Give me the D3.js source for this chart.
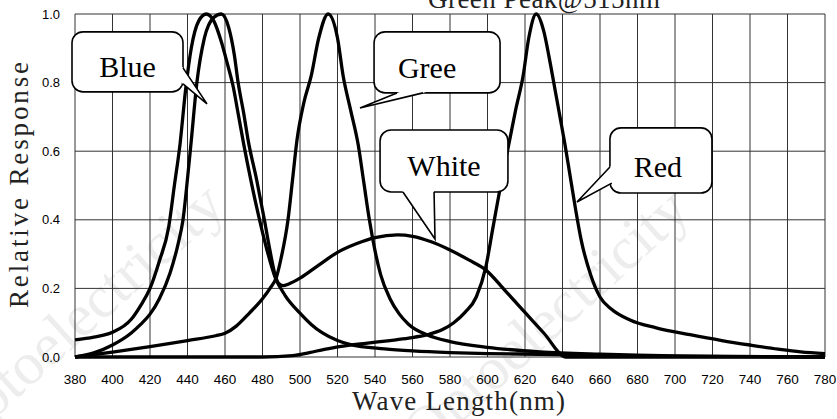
<!DOCTYPE html>
<html>
<head>
<meta charset="utf-8">
<script src="https://cdn.jsdelivr.net/npm/d3@7"></script>
<style>
  body { margin: 0; background: #fff; }
  svg { display: block; }
</style>
</head>
<body>
<svg id="chart" width="837" height="419"></svg>
<script>
// SPECTRUM DATA  [wavelength nm, relative response]
const blueCurve = [
  [380,0.05],[390,0.058],[400,0.072],[410,0.11],[415,0.15],[420,0.2],[425,0.28],[430,0.38],
  [433,0.5],[436,0.62],[439,0.78],[442,0.9],[446,0.98],[450,1.0],[454,0.98],[458,0.92],
  [461.5,0.85],[464.3,0.79],[467,0.71],[470,0.62],[474,0.51],[478,0.41],[482,0.32],[486.7,0.233],
  [492,0.18],[500,0.128],[506,0.095],[512,0.07],[520,0.048],[527,0.036],[545,0.024],[560,0.018],
  [580,0.013],[600,0.01],[628,0.008],[660,0.005],[700,0.002],[740,0.001],[780,0]
];
const whiteCurve = [
  [380,0],[390,0.012],[400,0.035],[410,0.07],[415,0.095],[420,0.125],[425,0.17],[430.7,0.245],
  [435,0.33],[437.6,0.4],[440,0.52],[442,0.63],[445,0.8],[449,0.93],[454,0.99],[458,1.0],
  [462,0.96],[465,0.88],[467,0.8],[470,0.71],[472.3,0.633],[476.9,0.516],[481,0.4],[484,0.31],
  [486.7,0.24],[488.5,0.215],[491,0.208],[494,0.213],[500,0.23],[510,0.268],[520,0.305],
  [530,0.33],[540,0.348],[552,0.356],[560,0.352],[570,0.336],[580,0.312],[590,0.283],
  [599,0.254],[610,0.19],[620,0.13],[630,0.07],[642,0],[700,0],[780,0]
];
const greenCurve = [
  [380,0],[400,0.014],[420,0.03],[440,0.048],[455,0.062],[460,0.069],[466,0.09],[473,0.128],
  [480,0.17],[484,0.2],[487.5,0.234],[490,0.29],[493.6,0.4],[496,0.516],[498.4,0.633],
  [502,0.74],[506,0.82],[510,0.93],[515,1.0],[520,0.93],[523,0.82],[527,0.72],[531,0.62],
  [534,0.51],[537,0.4],[540,0.31],[543,0.24],[548,0.17],[553,0.125],[558,0.095],[568,0.064],
  [580,0.045],[600,0.028],[628,0.015],[660,0.008],[700,0.003],[780,0]
];
const redCurve = [
  [380,0],[480,0],[496,0.004],[505,0.013],[513,0.022],[521,0.03],[535,0.04],[548,0.048],
  [558,0.055],[568,0.065],[576,0.08],[582,0.1],[588,0.13],[594,0.175],[599,0.26],[603,0.38],
  [607,0.5],[611,0.61],[615,0.72],[619,0.82],[622,0.93],[626,1.0],[630,0.95],[633,0.87],
  [636,0.78],[639,0.69],[641.3,0.62],[644,0.53],[647,0.43],[650,0.34],[655,0.24],[660,0.175],
  [666,0.14],[676,0.108],[690,0.085],[708,0.065],[725,0.048],[740,0.035],[755,0.023],
  [767,0.015],[780,0.01]
];

const xTicks = [380,400,420,440,460,480,500,520,540,560,580,600,620,640,660,680,700,720,740,760,780];
const yTicks = [0, 0.2, 0.4, 0.6, 0.8, 1.0];

// callouts: box [nm0, nm1, vTop, vBottom], tail base points and tip, in data units
const callouts = [
  {label: "Blue",  box: [378.4, 437.6, 0.948, 0.773], base: [[437.6,0.843],[437.6,0.796]], tip: [450.4,0.738], dx: 0},
  {label: "Gree",  box: [539.5, 606.7, 0.948, 0.770], base: [[551.7,0.770],[565.6,0.770]], tip: [532,0.726], dx: -10},
  {label: "White", box: [542.7, 610.9, 0.662, 0.481], base: [[554.9,0.481],[571.5,0.481]], tip: [572,0.344], dx: 0},
  {label: "Red",   box: [665.3, 719.7, 0.668, 0.478], base: [[665.3,0.554],[666.3,0.507]], tip: [647.7,0.452], dx: -3}
];

const svg = d3.select("#chart");

const x = d3.scaleLinear().domain([380, 780]).range([75, 825]);
const y = d3.scaleLinear().domain([0, 1]).range([357, 14]);

// faint watermark text
const wm = svg.append("g").attr("fill", "#ededed")
  .style("font-family", "'Liberation Serif', serif").style("font-size", "60px");
wm.append("text").attr("transform", "translate(-40,450) rotate(-42)").text("Optoelectricity");
wm.append("text").attr("transform", "translate(425,455) rotate(-42)").text("Optoelectricity");

// grid
svg.append("g").selectAll("line.vgrid")
  .data(xTicks)
  .join("line")
  .attr("class", "vgrid")
  .attr("x1", d => x(d)).attr("x2", d => x(d))
  .attr("y1", y(0)).attr("y2", y(1))
  .attr("stroke", "#333").attr("stroke-width", 1);

svg.append("g").selectAll("line.hgrid")
  .data(yTicks)
  .join("line")
  .attr("class", "hgrid")
  .attr("x1", x(380)).attr("x2", x(780))
  .attr("y1", d => y(d)).attr("y2", d => y(d))
  .attr("stroke", "#333").attr("stroke-width", 1);

// tick labels
svg.append("g").selectAll("text")
  .data(xTicks)
  .join("text")
  .attr("x", d => x(d))
  .attr("y", 384)
  .attr("text-anchor", "middle")
  .style("font-family", "'Liberation Sans', Arial, sans-serif")
  .style("font-size", "13.5px")
  .text(d => d);

svg.append("g").selectAll("text")
  .data(yTicks)
  .join("text")
  .attr("x", 60)
  .attr("y", d => y(d))
  .attr("dy", "0.35em")
  .attr("text-anchor", "end")
  .style("font-family", "'Liberation Sans', Arial, sans-serif")
  .style("font-size", "13px")
  .text(d => d.toFixed(1));

// curves
const line = d3.line()
  .x(d => x(d[0]))
  .y(d => y(d[1]))
  .curve(d3.curveMonotoneX);

[blueCurve, whiteCurve, greenCurve, redCurve].forEach(c => {
  svg.append("path")
    .datum(c)
    .attr("d", line)
    .attr("fill", "none")
    .attr("stroke", "#000")
    .attr("stroke-width", 3.3)
    .attr("stroke-linejoin", "round");
});

// callouts
callouts.forEach(c => {
  const x0 = x(c.box[0]), x1 = x(c.box[1]);
  const y0 = y(c.box[2]), y1 = y(c.box[3]);
  const g = svg.append("g");
  g.append("rect")
    .attr("x", x0).attr("y", y0)
    .attr("width", x1 - x0).attr("height", y1 - y0)
    .attr("rx", 11).attr("ry", 11)
    .attr("fill", "#fff").attr("stroke", "#000").attr("stroke-width", 1.6);

  const b1 = [x(c.base[0][0]), y(c.base[0][1])];
  const b2 = [x(c.base[1][0]), y(c.base[1][1])];
  const tp = [x(c.tip[0]), y(c.tip[1])];
  const mx = (b1[0] + b2[0]) / 2 - tp[0], my = (b1[1] + b2[1]) / 2 - tp[1];
  const len = Math.hypot(mx, my);
  const ux = mx / len * 3, uy = my / len * 3;

  g.append("path")
    .attr("d", `M${b1}L${tp}L${b2}L${b2[0] + ux},${b2[1] + uy}L${b1[0] + ux},${b1[1] + uy}Z`)
    .attr("fill", "#fff");
  g.append("path")
    .attr("d", `M${b1}L${tp}L${b2}`)
    .attr("fill", "none").attr("stroke", "#000").attr("stroke-width", 1.6)
    .attr("stroke-linejoin", "miter");

  g.append("text")
    .attr("x", (x0 + x1) / 2 + c.dx)
    .attr("y", y0 + 0.75 * (y1 - y0))
    .attr("text-anchor", "middle")
    .style("font-family", "'Liberation Serif', 'Times New Roman', serif")
    .style("font-size", "30px")
    .text(c.label);
});

// titles (serif, spread out to the widths of the original half-width font)
function titleText(str, transform, width) {
  svg.append("text")
    .attr("transform", transform)
    .attr("textLength", width)
    .attr("lengthAdjust", "spacing")
    .attr("fill", "#222")
    .style("font-family", "'Liberation Serif', 'DejaVu Serif', serif")
    .style("font-size", "27px")
    .text(str);
}

titleText("Green Peak@515nm", "translate(428,8)", 232);
titleText("Wave Length(nm)", "translate(352,410)", 213);
titleText("Relative Response", "translate(28,308) rotate(-90)", 246);
</script>
</body>
</html>
